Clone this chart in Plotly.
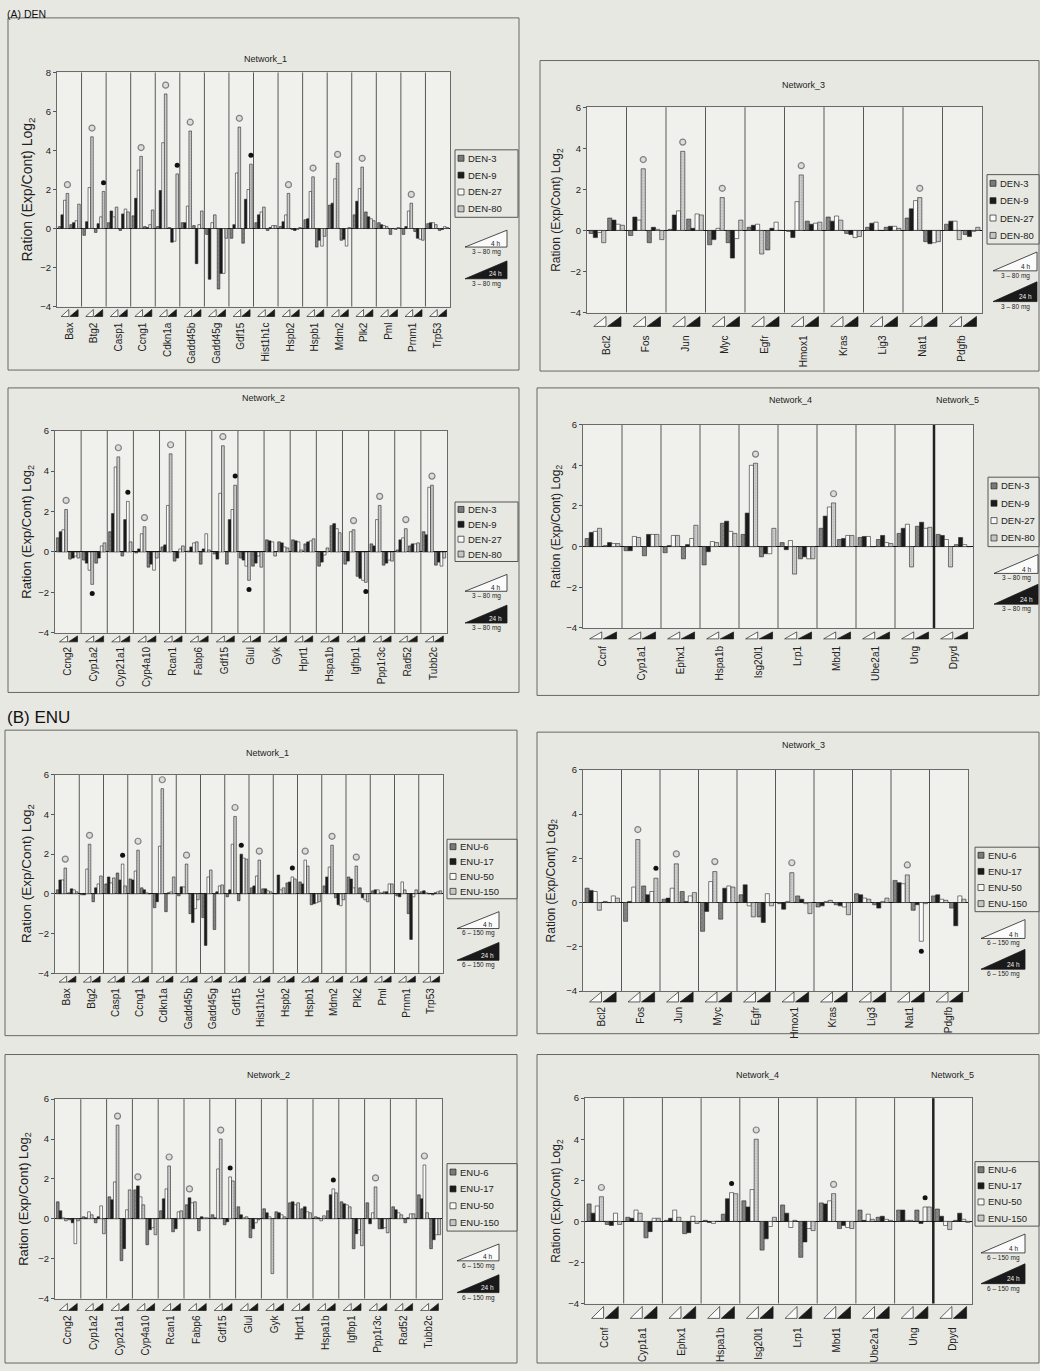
import plotly.graph_objects as go

W, H = 1040, 1371
FONT = "Liberation Sans, Arial, Helvetica, sans-serif"

# ------------------------------------------------------------------ data
DEN_DOSES = ["DEN-3", "DEN-9", "DEN-27", "DEN-80"]
ENU_DOSES = ["ENU-6", "ENU-17", "ENU-50", "ENU-150"]
DEN_RANGE_TEXT = "3 \u2013 80 mg"
ENU_RANGE_TEXT = "6 \u2013 150 mg"
Y_TITLE = "Ration (Exp/Cont) Log<sub>2</sub>"

NET1_GENES = ["Bax", "Btg2", "Casp1", "Ccng1", "Cdkn1a", "Gadd45b", "Gadd45g", "Gdf15",
              "Hist1h1c", "Hspb2", "Hspb1", "Mdm2", "Plk2", "Pml", "Prnm1", "Trp53"]
NET2_GENES = ["Ccng2", "Cyp1a2", "Cyp21a1", "Cyp4a10", "Rcan1", "Fabp6", "Gdf15", "Glul",
              "Gyk", "Hprt1", "Hspa1b", "Igfbp1", "Ppp1r3c", "Rad52", "Tubb2c"]
NET3_GENES = ["Bcl2", "Fos", "Jun", "Myc", "Egfr", "Hmox1", "Kras", "Lig3", "Nat1", "Pdgfb"]
NET45_GENES = ["Ccnf", "Cyp1a1", "Ephx1", "Hspa1b", "Isg20l1", "Lrp1", "Mbd1", "Ube2a1", "Ung", "Dpyd"]
NET5_FIRST_GENE = "Dpyd"

# values per gene: [dose1, dose2, dose3, dose4]
A1_4H = [[0.1, 0.7, 1.45, 1.8], [-0.35, 0.35, 2.1, 4.7], [0.3, 0.9, 0.6, 1.1], [0.65, 1.55, 3.0, 3.7],
         [0.1, 1.95, 4.4, 6.9], [0.3, 0.3, 1.15, 5.0], [-0.3, -2.6, 0.3, 0.7], [-0.5, 0.2, 2.85, 5.2],
         [0.3, 0.7, 0.85, 1.1], [0.1, 0.35, 0.7, 1.8], [0.45, 0.5, 1.9, 2.65], [1.2, 1.3, 2.55, 3.35],
         [0.7, 1.4, 2.05, 3.15], [0.3, 0.2, 0.15, 0.1], [-0.3, 0.1, 0.9, 1.3], [0.25, 0.3, 0.3, 0.2]]
A1_24H = [[0.2, 0.3, 0.4, 1.25], [-0.2, 0.25, 0.6, 1.9], [-0.1, 0.75, 1.0, 0.85], [0.1, 0.05, 0.2, 0.95],
          [0.05, -0.7, -0.65, 2.8], [0.15, -1.8, 0.2, 0.9], [-3.1, -2.3, -2.3, -0.5], [-0.75, 1.5, 2.0, 3.3],
          [-0.1, 0.05, 0.15, 0.15], [-0.05, -0.1, -0.05, 0.05], [-0.95, -0.6, -0.9, -0.4], [-0.6, -0.55, -0.9, 0.05],
          [0.85, 0.6, 0.5, 0.4], [-0.3, 0.0, -0.05, 0.05], [-0.15, -0.5, -0.55, -0.6], [-0.1, -0.05, 0.1, 0.05]]
A1_SIG = [("Bax", "4h", "o"), ("Btg2", "4h", "o"), ("Ccng1", "4h", "o"), ("Cdkn1a", "4h", "o"),
          ("Gadd45b", "4h", "o"), ("Gdf15", "4h", "o"), ("Hspb2", "4h", "o"), ("Hspb1", "4h", "o"),
          ("Mdm2", "4h", "o"), ("Plk2", "4h", "o"), ("Prnm1", "4h", "o"),
          ("Btg2", "24h", "d"), ("Cdkn1a", "24h", "d"), ("Gdf15", "24h", "d")]

A3_4H = [[-0.15, -0.35, -0.1, -0.6], [-0.25, 0.65, 0.5, 3.0], [0.05, 0.75, 0.95, 3.85], [-0.7, -0.45, 0.1, 1.6],
         [0.15, 0.25, 0.3, -1.15], [-0.05, -0.35, 1.4, 2.7], [0.65, 0.45, 0.7, 0.5], [0.15, 0.35, 0.4, 0.0],
         [0.6, 1.05, 1.45, 1.6], [0.3, 0.45, 0.45, -0.45]]
A3_24H = [[0.6, 0.5, 0.3, 0.25], [-0.6, 0.15, 0.05, -0.45], [0.55, 0.1, 0.8, 0.75], [-0.6, -1.35, -0.4, 0.5],
          [-0.95, 0.1, 0.4, 0.0], [0.45, 0.3, 0.35, 0.4], [-0.15, -0.2, -0.35, -0.3], [0.15, 0.2, 0.2, 0.1],
          [-0.55, -0.65, -0.6, -0.55], [-0.2, -0.3, -0.05, 0.15]]
A3_SIG = [("Fos", "4h", "o"), ("Jun", "4h", "o"), ("Myc", "4h", "o"), ("Hmox1", "4h", "o"), ("Nat1", "4h", "o")]

A2_4H = [[0.7, 1.0, 1.1, 2.1], [-0.4, -0.55, -0.9, -1.6], [1.0, 1.9, 4.2, 4.7], [-0.05, 0.15, 0.9, 1.25],
         [0.25, 0.35, 2.3, 4.85], [0.05, 0.25, 0.45, 0.5], [-0.1, -0.35, 2.9, 5.25], [-0.3, -0.4, -0.7, -1.4],
         [0.6, 0.55, 0.5, -0.2], [0.6, 0.55, 0.5, 0.1], [-0.7, -0.5, -0.15, 0.2], [-0.6, -0.45, 1.0, 1.1],
         [0.4, 0.3, 1.6, 2.3], [0.1, 0.6, 0.7, 1.15], [1.0, 0.85, 3.2, 3.3]]
A2_24H = [[-0.35, -0.3, -0.2, -0.3], [-0.55, -0.3, 0.3, 0.45], [-0.2, 1.6, 2.5, 0.5], [-0.75, -0.6, -0.9, -0.3],
          [-0.45, -0.3, 0.15, 0.3], [-0.6, 0.15, 0.9, 0.1], [-0.6, 1.6, 2.1, 3.3], [-0.7, -0.55, -0.2, -0.75],
          [0.5, 0.45, 0.25, 0.2], [0.4, 0.5, 0.55, 0.65], [1.3, 1.4, 1.15, 0.95], [-1.2, -1.3, -1.4, -1.5],
          [-0.65, -0.55, -0.4, -0.45], [0.3, 0.4, 0.4, 0.45], [-0.65, -0.5, -0.7, -0.3]]
A2_SIG = [("Ccng2", "4h", "o"), ("Cyp21a1", "4h", "o"), ("Cyp4a10", "4h", "o"), ("Rcan1", "4h", "o"),
          ("Gdf15", "4h", "o"), ("Igfbp1", "4h", "o"), ("Ppp1r3c", "4h", "o"), ("Rad52", "4h", "o"),
          ("Tubb2c", "4h", "o"),
          ("Cyp1a2", "4h", "d"), ("Cyp21a1", "24h", "d"), ("Gdf15", "24h", "d"), ("Glul", "4h", "d"),
          ("Igfbp1", "24h", "d")]

A4_4H = [[0.4, 0.7, 0.75, 0.9], [-0.2, -0.2, 0.5, 0.45], [-0.3, 0.05, 0.55, 0.55], [-0.9, -0.25, 0.25, 0.2],
         [0.6, 1.65, 4.0, 4.1], [0.2, -0.15, 0.3, -1.35], [0.9, 1.5, 1.95, 2.15], [0.45, 0.5, 0.5, 0.0],
         [0.65, 0.9, 1.1, -1.0], [0.6, 0.55, 0.35, -1.0]]
A4_24H = [[0.05, 0.2, 0.15, 0.15], [-0.45, 0.6, 0.6, 0.6], [-0.6, 0.1, 0.4, 1.05], [1.15, 1.25, 0.75, 0.65],
          [-0.5, -0.35, -0.35, 0.9], [-0.6, -0.5, -0.6, -0.6], [0.35, 0.4, 0.55, 0.55], [0.35, 0.55, 0.2, 0.15],
          [1.0, 1.2, 0.9, 0.95], [0.1, 0.45, 0.1, 0.0]]
A4_SIG = [("Isg20l1", "4h", "o"), ("Mbd1", "4h", "o")]

B1_4H = [[0.2, 0.7, 0.7, 1.3], [-0.05, -0.05, 1.25, 2.5], [0.5, 0.85, 0.55, 0.8], [0.75, 0.7, 1.15, 2.2],
         [-0.7, -0.4, 2.4, 5.3], [-0.1, 0.35, 0.35, 1.5], [-1.2, -2.6, 0.85, 1.2], [-0.15, 0.2, 2.5, 3.9],
         [0.3, 0.4, 0.9, 1.7], [0.0, 0.95, 0.2, 0.3], [0.6, 0.5, 1.7, 1.4], [0.4, 0.85, 1.35, 2.45],
         [0.85, 0.75, 0.3, 1.4], [0.15, 0.2, 0.2, 0.05], [-0.1, -0.15, 0.6, 0.2], [0.1, 0.15, 0.05, 0.0]]
B1_24H = [[0.05, 0.25, 0.2, 0.1], [-0.4, 0.3, 0.5, 0.9], [1.05, 0.7, 1.5, 0.4], [0.3, 0.2, 0.05, 0.0],
          [-0.9, 0.05, 0.1, 0.85], [-1.0, -1.45, -0.75, -0.3], [-1.8, 0.1, 0.4, 0.45], [-0.35, 2.0, 1.8, 1.75],
          [0.25, 0.25, 0.15, 0.1], [0.55, 0.6, 0.85, 0.75], [-0.55, -0.5, -0.45, -0.4], [-0.2, -0.55, -0.6, -0.3],
          [0.3, -0.2, -0.3, -0.4], [0.1, 0.1, 0.5, 0.5], [-1.0, -2.3, -0.15, 0.2], [-0.05, 0.05, 0.1, 0.15]]
B1_SIG = [("Bax", "4h", "o"), ("Btg2", "4h", "o"), ("Ccng1", "4h", "o"), ("Cdkn1a", "4h", "o"),
          ("Gadd45b", "4h", "o"), ("Gdf15", "4h", "o"), ("Hist1h1c", "4h", "o"), ("Hspb1", "4h", "o"),
          ("Mdm2", "4h", "o"), ("Plk2", "4h", "o"),
          ("Casp1", "24h", "d"), ("Gdf15", "24h", "d"), ("Hspb2", "24h", "d")]

B3_4H = [[0.65, 0.55, 0.5, -0.35], [-0.85, 0.05, 0.7, 2.85], [0.15, 0.2, 0.65, 1.75], [-1.3, -0.4, 0.95, 1.4],
         [0.35, 0.8, -0.15, -0.65], [-0.05, -0.3, 0.05, 1.35], [-0.2, -0.15, 0.05, 0.1], [0.4, 0.35, 0.2, 0.15],
         [1.0, 0.9, 0.85, 1.25], [0.3, 0.35, 0.15, 0.1]]
B3_24H = [[0.05, 0.0, 0.3, 0.2], [0.75, 0.35, 0.5, 1.1], [0.5, 0.05, 0.3, 0.45], [-0.75, 0.65, 0.75, 0.7],
          [-0.65, -0.9, 0.4, -0.15], [0.3, 0.15, -0.05, -0.5], [-0.1, -0.15, -0.2, -0.55], [-0.1, -0.25, 0.05, 0.2],
          [-0.35, -0.1, -1.75, -0.05], [-0.25, -1.05, 0.3, 0.15]]
B3_SIG = [("Fos", "4h", "o"), ("Jun", "4h", "o"), ("Myc", "4h", "o"), ("Hmox1", "4h", "o"), ("Nat1", "4h", "o"),
          ("Fos", "24h", "d"), ("Nat1", "24h", "d")]

B2_4H = [[0.85, 0.4, 0.05, -0.1], [0.1, 0.05, 0.35, 0.2], [1.1, 0.95, 1.85, 4.7], [1.45, 1.65, 1.1, 0.7],
         [0.4, 1.0, 1.5, 2.65], [0.7, 1.05, 0.8, 0.85], [0.2, 0.05, 2.5, 4.0], [0.6, 0.2, 0.05, 0.1],
         [0.5, 0.3, 0.1, -2.75], [0.8, 0.85, 0.7, 0.8], [0.1, 0.05, -0.1, 0.15], [0.85, 0.75, 0.7, 0.6],
         [0.8, -0.25, 0.3, 1.6], [0.6, 0.45, 0.3, 0.2], [1.2, 1.0, 2.7, 0.3]]
B2_24H = [[-0.05, -0.2, -1.25, -0.1], [-0.2, 0.1, 0.65, -0.75], [-2.1, -1.5, 0.45, 1.45], [-1.3, -0.55, -0.45, -0.8],
          [-0.65, -0.5, 0.35, 0.4], [-0.6, 0.1, 0.05, 0.05], [-0.3, -0.15, 2.1, 1.9], [-0.95, -0.5, -0.2, -0.05],
          [0.35, 0.3, 0.2, 0.1], [0.5, 0.6, 0.35, 0.3], [0.4, 1.2, 1.5, 1.3], [-1.5, -0.75, -0.55, -1.35],
          [-0.5, -0.5, -0.45, -0.7], [-0.2, 0.05, 0.25, 0.25], [-1.5, -1.05, -0.8, -0.8]]
B2_SIG = [("Cyp21a1", "4h", "o"), ("Cyp4a10", "4h", "o"), ("Rcan1", "4h", "o"), ("Fabp6", "4h", "o"),
          ("Gdf15", "4h", "o"), ("Ppp1r3c", "4h", "o"), ("Tubb2c", "4h", "o"),
          ("Gdf15", "24h", "d"), ("Hspa1b", "24h", "d")]

B4_4H = [[0.85, 0.4, 0.75, 1.2], [0.2, 0.15, 0.55, 0.4], [0.05, 0.15, 0.55, 0.2], [0.05, -0.05, -0.1, 0.0],
         [1.0, 0.7, 1.55, 4.0], [0.8, 0.4, -0.3, 0.05], [0.9, 0.85, 1.0, 1.35], [0.55, 0.05, 0.35, 0.1],
         [0.55, 0.55, 0.05, 0.05], [0.6, 0.25, -0.2, -0.4]]
B4_24H = [[-0.15, -0.2, 0.4, -0.15], [-0.8, -0.5, 0.15, 0.15], [-0.6, -0.55, 0.25, -0.1], [0.35, 1.1, 1.4, 1.35],
          [-1.4, -0.85, -0.25, 0.2], [-1.75, -1.0, -0.35, -0.45], [-0.35, -0.2, -0.3, -0.35], [0.2, 0.25, 0.1, 0.05],
          [0.55, -0.1, 0.7, 0.7], [0.05, 0.4, 0.1, -0.05]]
B4_SIG = [("Ccnf", "4h", "o"), ("Isg20l1", "4h", "o"), ("Mbd1", "4h", "o"),
          ("Hspa1b", "24h", "d"), ("Ung", "24h", "d")]

A1_YRANGE = [-4, 8]
STD_YRANGE = [-4, 6]

PANELS = [
    dict(genes=NET1_GENES, v4h=A1_4H, v24h=A1_24H, sig=A1_SIG, doses=DEN_DOSES, rtext=DEN_RANGE_TEXT, yrange=A1_YRANGE),
    dict(genes=NET3_GENES, v4h=A3_4H, v24h=A3_24H, sig=A3_SIG, doses=DEN_DOSES, rtext=DEN_RANGE_TEXT, yrange=STD_YRANGE),
    dict(genes=NET2_GENES, v4h=A2_4H, v24h=A2_24H, sig=A2_SIG, doses=DEN_DOSES, rtext=DEN_RANGE_TEXT, yrange=STD_YRANGE),
    dict(genes=NET45_GENES, v4h=A4_4H, v24h=A4_24H, sig=A4_SIG, doses=DEN_DOSES, rtext=DEN_RANGE_TEXT, yrange=STD_YRANGE),
    dict(genes=NET1_GENES, v4h=B1_4H, v24h=B1_24H, sig=B1_SIG, doses=ENU_DOSES, rtext=ENU_RANGE_TEXT, yrange=STD_YRANGE),
    dict(genes=NET3_GENES, v4h=B3_4H, v24h=B3_24H, sig=B3_SIG, doses=ENU_DOSES, rtext=ENU_RANGE_TEXT, yrange=STD_YRANGE),
    dict(genes=NET2_GENES, v4h=B2_4H, v24h=B2_24H, sig=B2_SIG, doses=ENU_DOSES, rtext=ENU_RANGE_TEXT, yrange=STD_YRANGE),
    dict(genes=NET45_GENES, v4h=B4_4H, v24h=B4_24H, sig=B4_SIG, doses=ENU_DOSES, rtext=ENU_RANGE_TEXT, yrange=STD_YRANGE),
]

# ------------------------------------------------------------------ geometry (pixels)
GEOM = [
    dict(box=(8, 12, 519, 367), plot=(57, 67, 450, 303), tri=(306, 313), lab=317,
         titles=[("Network_1", 265, 53)], ytitle=(28, 14), legend=(455, 145, 518, 213), side="L"),
    dict(box=(540, 55, 1039, 368), plot=(587, 102, 982, 309), tri=(313, 323), lab=330,
         titles=[("Network_3", 803, 80)], ytitle=(557, 12), legend=(987, 170, 1040, 240), side="R"),
    dict(box=(8, 385, 519, 692), plot=(55, 428, 447, 632), tri=(635, 641), lab=644,
         titles=[("Network_2", 263, 395)], ytitle=(28, 13), legend=(455, 500, 518, 560), side="L"),
    dict(box=(537, 385, 1039, 695), plot=(583, 422, 973, 627), tri=(631, 638), lab=643,
         titles=[("Network_4", 790, 397), ("Network_5", 957, 397)], ytitle=(557, 12), legend=(988, 475, 1040, 545), side="R"),
    dict(box=(5, 730, 517, 1038), plot=(55, 775, 443, 975), tri=(978, 984), lab=988,
         titles=[("Network_1", 267, 753)], ytitle=(28, 13.5), legend=(447, 840, 517, 900), side="L"),
    dict(box=(537, 732, 1039, 1036), plot=(583, 770, 968, 993), tri=(994, 1004), lab=1007,
         titles=[("Network_3", 803, 745)], ytitle=(552, 12), legend=(975, 848, 1040, 913), side="R"),
    dict(box=(5, 1057, 517, 1368), plot=(55, 1102, 442, 1303), tri=(1308, 1315), lab=1318,
         titles=[("Network_2", 268, 1078)], ytitle=(25, 13), legend=(447, 1167, 517, 1235), side="L"),
    dict(box=(537, 1057, 1039, 1368), plot=(585, 1101, 972, 1308), tri=(1311, 1323), lab=1330,
         titles=[("Network_4", 757, 1078), ("Network_5", 952, 1078)], ytitle=(557, 12), legend=(975, 1165, 1040, 1230), side="R"),
]

SECTION_LABELS = [("(A) DEN", 5, 0, "top", 10.5), ("(B) ENU", 5, 717, "middle", 17)]

# ------------------------------------------------------------------ styles
DOSE_COLORS = ["#7a7a7a", "#1b1b1b", "#fafafa", "#c6c6c6"]
DOSE_PATTERNS = [dict(shape="x", fgcolor="#505050", bgcolor="#878787", size=3, solidity=0.3),
                 None, None,
                 dict(shape=".", fgcolor="#999999", bgcolor="#cdcdcd", size=3, solidity=0.25)]
GROUP_SHIFT = 0.235
BAR_W = 0.106
PAPER_BG = "#e8e8e3"
PLOT_BG = "#f0f0ec"
FRAME = "#6a6a6a"


def fx(px):
    return px / W


def fy(py):
    return 1 - py / H


fig = go.Figure()
shapes, annots = [], []
layout_axes = {}

for n, (data, geo) in enumerate(zip(PANELS, GEOM), start=1):
    sfx = "" if n == 1 else str(n)
    xa, ya = "x" + sfx, "y" + sfx
    genes = data["genes"]
    ng = len(genes)
    idx = list(range(ng))

    # bars
    for k, dose in enumerate(data["doses"]):
        xs, ys = [], []
        for series, shift in ((data["v4h"], -GROUP_SHIFT), (data["v24h"], GROUP_SHIFT)):
            for i in idx:
                xs.append(i + shift)
                ys.append(series[i][k])
        marker = dict(color=DOSE_COLORS[k], line=dict(color="#2a2a2a", width=0.6))
        if DOSE_PATTERNS[k]:
            marker["pattern"] = DOSE_PATTERNS[k]
        fig.add_trace(go.Bar(x=xs, y=ys, name=dose, width=BAR_W, offset=(k - 2) * BAR_W,
                             xaxis=xa, yaxis=ya, marker=marker, showlegend=False))

    # significance markers
    for kind in ("o", "d"):
        mx, my = [], []
        for gene, tp, kd in data["sig"]:
            if kd != kind:
                continue
            i = genes.index(gene)
            vals = data["v4h"][i] if tp == "4h" else data["v24h"][i]
            shift = -GROUP_SHIFT if tp == "4h" else GROUP_SHIFT
            k = max(range(4), key=lambda j: abs(vals[j]))
            v = vals[k]
            mx.append(i + shift + (k - 2) * BAR_W + BAR_W / 2)
            my.append(v + (0.45 if v >= 0 else -0.45))
        if not mx:
            continue
        if kind == "o":
            mk = dict(symbol="circle", size=6, color="#dcdcdc", line=dict(color="#808080", width=1.2))
        else:
            mk = dict(symbol="circle", size=5, color="#111111", line=dict(width=0))
        fig.add_trace(go.Scatter(x=mx, y=my, mode="markers", marker=mk, xaxis=xa, yaxis=ya,
                                 showlegend=False, hoverinfo="skip", cliponaxis=False))

    # axes
    px0, pt, px1, pb = geo["plot"]
    layout_axes["xaxis" + sfx] = dict(
        domain=[fx(px0), fx(px1)], range=[-0.5, ng - 0.5], anchor=ya,
        tickmode="array", tickvals=idx, ticktext=genes, tickangle=-90, ticks="",
        ticklabelstandoff=max(geo["lab"] - pb - 3, 0),
        tickfont=dict(size=10, color="#222"), showline=True, mirror=True, linecolor=FRAME,
        linewidth=1, showgrid=False, zeroline=False, fixedrange=True)
    layout_axes["yaxis" + sfx] = dict(
        domain=[fy(pb), fy(pt)], range=data["yrange"], anchor=xa, tick0=0, dtick=2,
        ticks="outside", ticklen=3, tickcolor="#555", tickfont=dict(size=9.5, color="#222"),
        showline=True, mirror=True, linecolor=FRAME, linewidth=1, showgrid=False,
        zeroline=True, zerolinecolor="#111", zerolinewidth=1, fixedrange=True)

    # gene separators
    net5 = genes.index(NET5_FIRST_GENE) if NET5_FIRST_GENE in genes else None
    for i in idx[:-1]:
        thick = net5 is not None and i + 1 == net5
        shapes.append(dict(type="line", xref=xa, yref=ya + " domain", x0=i + 0.5, x1=i + 0.5, y0=0, y1=1,
                           line=dict(color="#222" if thick else "#585858", width=2.5 if thick else 1),
                           layer="below"))

    # time/dose wedges under every gene
    t_top, t_bot = geo["tri"]
    for i in idx:
        shapes.append(dict(type="path", xref=xa, yref="paper",
                           path=f"M {i - 0.33},{fy(t_bot)} L {i - 0.02},{fy(t_bot)} L {i - 0.02},{fy(t_top)} Z",
                           fillcolor="#fbfbfb", line=dict(color="#222", width=0.7)))
        shapes.append(dict(type="path", xref=xa, yref="paper",
                           path=f"M {i + 0.02},{fy(t_bot)} L {i + 0.36},{fy(t_bot)} L {i + 0.36},{fy(t_top)} Z",
                           fillcolor="#1a1a1a", line=dict(color="#1a1a1a", width=0.7)))

    # panel box
    bx0, by0, bx1, by1 = geo["box"]
    shapes.append(dict(type="rect", xref="paper", yref="paper", x0=fx(bx0), x1=fx(bx1), y0=fy(by1), y1=fy(by0),
                       line=dict(color="#666", width=1), fillcolor="rgba(0,0,0,0)", layer="below"))

    # titles
    for txt, tx, ty in geo["titles"]:
        annots.append(dict(text=txt, x=fx(tx), y=fy(ty), xref="paper", yref="paper", showarrow=False,
                           xanchor="center", yanchor="middle", font=dict(size=9, color="#222")))
    # y title
    ytx, yts = geo["ytitle"]
    annots.append(dict(text=Y_TITLE, x=fx(ytx), y=fy((pt + pb) / 2), xref="paper", yref="paper",
                       showarrow=False, textangle=-90, xanchor="center", yanchor="middle",
                       font=dict(size=yts, color="#222")))

    # legend (drawn manually, compact)
    lx0, ly0, lx1, ly1 = geo["legend"]
    shapes.append(dict(type="rect", xref="paper", yref="paper", x0=fx(lx0), x1=fx(min(lx1, 1039)),
                       y0=fy(ly1), y1=fy(ly0), line=dict(color="#555", width=1), fillcolor=PAPER_BG))
    pitch = (ly1 - ly0) / 4
    for k, dose in enumerate(data["doses"]):
        cy = ly0 + pitch * (k + 0.5)
        shapes.append(dict(type="rect", xref="paper", yref="paper", x0=fx(lx0 + 3), x1=fx(lx0 + 9),
                           y0=fy(cy + 3), y1=fy(cy - 3), fillcolor=DOSE_COLORS[k],
                           line=dict(color="#222", width=0.7)))
        annots.append(dict(text=dose, x=fx(lx0 + 11), y=fy(cy), xref="paper", yref="paper", showarrow=False,
                           xanchor="left", yanchor="middle", font=dict(size=9.5, color="#222")))

    # legend wedges
    if geo["side"] == "L":
        w1, w2, b1, b2, xl, xr = (ly1 + 13, ly1 + 30, ly1 + 44, ly1 + 62, lx0 + 10, lx0 + 52)
    else:
        w1, w2, b1, b2, xl, xr = (ly1 + 8, ly1 + 27, ly1 + 38, ly1 + 58, lx0 + 6, lx0 + 50)
    shapes.append(dict(type="path", xref="paper", yref="paper",
                       path=f"M {fx(xl)},{fy(w2)} L {fx(xr)},{fy(w2)} L {fx(xr)},{fy(w1)} Z",
                       fillcolor="#fbfbfb", line=dict(color="#222", width=0.8)))
    shapes.append(dict(type="path", xref="paper", yref="paper",
                       path=f"M {fx(xl)},{fy(b2)} L {fx(xr)},{fy(b2)} L {fx(xr)},{fy(b1)} Z",
                       fillcolor="#1a1a1a", line=dict(color="#1a1a1a", width=0.8)))
    annots.append(dict(text="4 h", x=fx(xr - 12), y=fy(w2 - 4), xref="paper", yref="paper", showarrow=False,
                       xanchor="center", yanchor="middle", font=dict(size=6.5, color="#222")))
    annots.append(dict(text="24 h", x=fx(xr - 12), y=fy(b2 - 5), xref="paper", yref="paper", showarrow=False,
                       xanchor="center", yanchor="middle", font=dict(size=6.5, color="#eee")))
    for yy in (w2, b2):
        annots.append(dict(text=data["rtext"], x=fx((xl + xr) / 2), y=fy(yy + 5), xref="paper", yref="paper",
                           showarrow=False, xanchor="center", yanchor="middle",
                           font=dict(size=6.5, color="#222")))

for txt, sx, sy, anchor, fs in SECTION_LABELS:
    annots.append(dict(text=txt, x=fx(sx), y=fy(sy), xref="paper", yref="paper", showarrow=False,
                       xanchor="left", yanchor=anchor, font=dict(size=fs, color="#111")))

fig.update_layout(
    width=W, height=H, margin=dict(l=0, r=0, t=0, b=0, pad=0),
    paper_bgcolor=PAPER_BG, plot_bgcolor=PLOT_BG,
    font=dict(family=FONT, color="#222"),
    barmode="overlay", showlegend=False, hovermode=False,
    shapes=shapes, annotations=annots, **layout_axes)

fig.write_html("out.html", config={"displayModeBar": False},
               post_script="document.body.style.margin='0';document.body.style.overflow='hidden';")
